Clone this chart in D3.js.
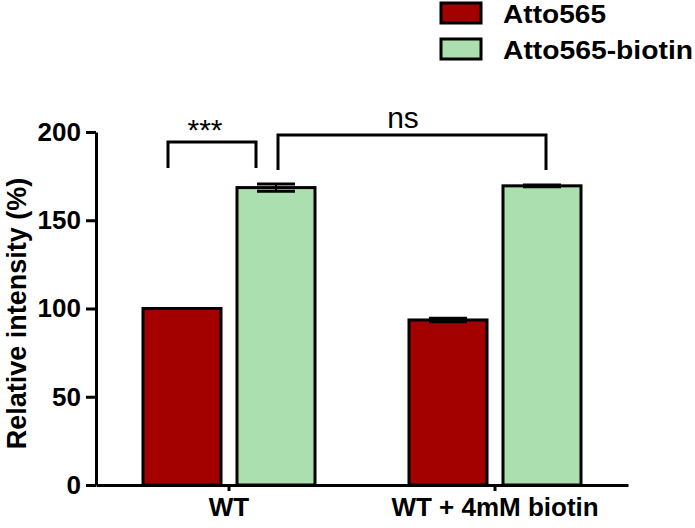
<!DOCTYPE html>
<html>
<head>
<meta charset="utf-8">
<script src="https://cdn.jsdelivr.net/npm/d3@7"></script>
<style>
  html, body { margin: 0; padding: 0; background: #fff; }
  svg { display: block; font-family: "Liberation Sans", Arial, sans-serif; }
</style>
</head>
<body>
<svg id="chart" width="695" height="528"></svg>
<script>
// data
const groups = ["WT", "WT + 4mM biotin"];
const series = ["Atto565", "Atto565-biotin"];
const means = [[100, 168.5], [93.5, 169.5]];   // [group][series]
const sems = [[0, 2], [1, 0.5]];
const yTicks = [0, 50, 100, 150, 200];
const colors = ["#a30000", "#acdfaf"];
// significance brackets: which bars, how high (data units), label
const brackets = [
  { a: [0, 0], b: [0, 1], dxA: -14, dxB: -20, top: 194.3, bottom: 179.6, label: "***", dx: -7, dy: -2 },
  { a: [0, 1], b: [1, 1], dxA: 2, dxB: 4, top: 198.3, bottom: 178.5, label: "ns", dx: -9, dy: -7 }
];

const svg = d3.select("#chart");
const plotLeft = 96, plotRight = 628, plotBottom = 485, plotTop = 132;

const x0 = d3.scaleBand().domain(groups).range([plotLeft, plotRight]).padding(0);
const x1 = d3.scaleBand().domain(series).range([-86, 86]).paddingInner(16 / 94);
const y = d3.scaleLinear().domain([0, 200]).range([plotBottom, plotTop]);

const barCenter = (g, s) => x0(groups[g]) + x0.bandwidth() / 2 + x1(series[s]) + x1.bandwidth() / 2;

// bars
const rows = [];
groups.forEach((g, gi) => series.forEach((s, si) => {
  rows.push({ gi, si, mean: means[gi][si], sem: sems[gi][si] });
}));

svg.append("g").selectAll("rect")
  .data(rows)
  .join("rect")
  .attr("x", d => barCenter(d.gi, d.si) - x1.bandwidth() / 2)
  .attr("y", d => y(d.mean))
  .attr("width", x1.bandwidth())
  .attr("height", d => y(0) - y(d.mean))
  .attr("fill", d => colors[d.si])
  .attr("stroke", "#000")
  .attr("stroke-width", 3);

// error bars (only where there is a spread)
const eb = svg.append("g").attr("stroke", "#000").attr("stroke-width", 3);
rows.filter(d => d.sem > 0).forEach(d => {
  const cx = barCenter(d.gi, d.si);
  eb.append("line").attr("x1", cx).attr("x2", cx)
    .attr("y1", y(d.mean + d.sem)).attr("y2", y(d.mean - d.sem)).attr("stroke-width", 2);
  [d.mean + d.sem, d.mean - d.sem].forEach(v => {
    eb.append("line").attr("x1", cx - 19).attr("x2", cx + 19)
      .attr("y1", y(v)).attr("y2", y(v));
  });
});

// axes
const yAxis = svg.append("g")
  .attr("transform", `translate(${plotLeft},0)`)
  .call(d3.axisLeft(y).tickValues(yTicks).tickSize(10).tickSizeOuter(0).tickPadding(5));
yAxis.select(".domain").attr("stroke-width", 3);
yAxis.selectAll(".tick line").attr("stroke-width", 3);
yAxis.selectAll(".tick text")
  .attr("font-size", 26).attr("font-weight", "bold").attr("fill", "#000")
  .attr("font-family", "Liberation Sans, Arial, sans-serif");

const xAxis = svg.append("g")
  .attr("transform", `translate(0,${plotBottom})`)
  .call(d3.axisBottom(x0).tickSize(6).tickSizeOuter(0).tickPadding(7));
xAxis.select(".domain").attr("stroke-width", 3);
xAxis.selectAll(".tick line").attr("stroke-width", 3);
xAxis.selectAll(".tick text")
  .attr("font-size", 26).attr("font-weight", "bold").attr("fill", "#000")
  .attr("font-family", "Liberation Sans, Arial, sans-serif");

svg.append("text")
  .attr("transform", `translate(26,${(plotTop + plotBottom) / 2 + 5}) rotate(-90)`)
  .attr("text-anchor", "middle")
  .attr("font-size", 27).attr("font-weight", "bold")
  .text("Relative intensity (%)");

// significance brackets
brackets.forEach(b => {
  const xa = barCenter(b.a[0], b.a[1]) + b.dxA;
  const xb = barCenter(b.b[0], b.b[1]) + b.dxB;
  svg.append("path")
    .attr("d", `M${xa},${y(b.bottom)}V${y(b.top)}H${xb}V${y(b.bottom)}`)
    .attr("fill", "none").attr("stroke", "#000").attr("stroke-width", 3);
  svg.append("text")
    .attr("x", (xa + xb) / 2 + b.dx)
    .attr("y", y(b.top) + b.dy)
    .attr("text-anchor", "middle")
    .attr("font-size", 30)
    .text(b.label);
});

// legend
const legendWidths = [103, 190];
const legend = svg.append("g");
series.forEach((s, i) => {
  const row = legend.append("g").attr("transform", `translate(441,${3 + i * 36})`);
  row.append("rect").attr("width", 40).attr("height", 20)
    .attr("fill", colors[i]).attr("stroke", "#000").attr("stroke-width", 3);
  row.append("text").attr("x", 62).attr("y", 20)
    .attr("font-size", 25).attr("font-weight", "bold")
    .attr("textLength", legendWidths[i]).attr("lengthAdjust", "spacingAndGlyphs")
    .text(s);
});
</script>
</body>
</html>
